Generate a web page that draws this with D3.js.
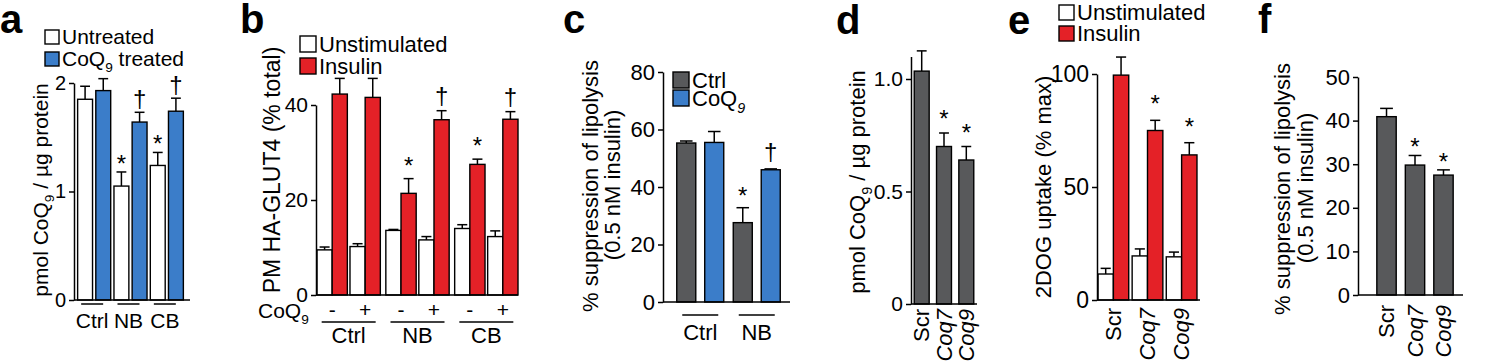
<!DOCTYPE html>
<html lang="en">
<head>
<meta charset="UTF-8">
<title>CoQ9 panels a-f</title>
<style>
  body { margin: 0; background: #fff; }
  svg { display: block; font-family: "Liberation Sans", Arial, Helvetica, sans-serif; }
  .axis path, .axis line { stroke: #000; stroke-width: 1.5; }
  .axis text { fill: #000; }
</style>
</head>
<body>
<div id="fig"></div>
<script src="https://d3js.org/d3.v7.min.js"></script>
<script>
// ---------- data ----------
// a: CoQ9 content
const aGroups = ["Ctrl", "NB", "CB"];
const aUntreated = [1.85, 1.05, 1.24];
const aUntreatedErr = [0.12, 0.13, 0.12];
const aTreated = [1.93, 1.64, 1.74];
const aTreatedErr = [0.11, 0.09, 0.12];
const aUntreatedMarks = ["", "*", "*"];
const aTreatedMarks = ["", "†", "†"];
const aTicks = [0, 1, 2];

// b: PM HA-GLUT4, order Ctrl-, Ctrl+, NB-, NB+, CB-, CB+
const bGroups = ["Ctrl", "NB", "CB"];
const bCoQ = ["-", "+"];
const bUnstim = [9.5, 10.2, 13.6, 11.6, 14.0, 12.3];
const bUnstimErr = [0.6, 0.6, 0.2, 0.7, 0.8, 1.2];
const bInsulin = [42.3, 41.6, 21.4, 36.9, 27.5, 37.0];
const bInsulinErr = [3.3, 4.0, 3.1, 1.9, 1.1, 1.6];
const bInsulinMarks = ["", "", "*", "†", "*", "†"];
const bTicks = [0, 20, 40];

// c: suppression of lipolysis, NB
const cGroups = ["Ctrl", "NB"];
const cCtrl = [55.3, 27.6];
const cCtrlErr = [0.7, 5.2];
const cCoQ = [55.5, 46.0];
const cCoQErr = [3.8, 0.3];
const cCtrlMarks = ["", "*"];
const cCoQMarks = ["", "†"];
const cTicks = [0, 20, 40, 60, 80];

// d, e, f: knockdowns
const kdCats = ["Scr", "Coq7", "Coq9"];
const kdItalic = [false, true, true];
const dVals = [1.035, 0.70, 0.64];
const dErr = [0.09, 0.06, 0.06];
const dMarks = ["", "*", "*"];
const dTicks = [0, 0.5, 1.0];

const eUnstim = [11.5, 19.5, 19.1];
const eUnstimErr = [2.5, 3.1, 2.1];
const eInsulin = [99.5, 75.0, 64.2];
const eInsulinErr = [8.0, 4.5, 5.4];
const eInsulinMarks = ["", "*", "*"];
const eTicks = [0, 50, 100];

const fVals = [40.9, 29.8, 27.5];
const fErr = [1.9, 2.2, 1.2];
const fMarks = ["", "*", "*"];
const fTicks = [0, 10, 20, 30, 40, 50];

const WHITE = "#ffffff", BLUE = "#3b7dc9", RED = "#e42127", GRAY = "#58595b";
const FONT = '"Liberation Sans", Arial, Helvetica, sans-serif';

const svg = d3.select("#fig").append("svg")
    .attr("width", 1500)
    .attr("height", 363);

// ---------- helpers ----------
// parts: [{t, sub, it}]
function rich(text, parts, fs) {
    let shifted = false;
    parts.forEach(p => {
        const ts = text.append("tspan").text(p.t);
        if (p.sub) {
            ts.attr("font-size", fs * 0.65).attr("dy", fs * 0.3);
            shifted = true;
        } else if (shifted) {
            ts.attr("dy", -fs * 0.3);
            shifted = false;
        }
        if (p.it) ts.attr("font-style", "italic");
    });
    return text;
}

function yAxis(x, y, ticks, fs, fmt) {
    const ax = d3.axisLeft(y).tickValues(ticks).tickSize(5).tickPadding(3).tickSizeOuter(0)
        .tickFormat(fmt || (d => String(d)));
    const g = svg.append("g")
        .attr("class", "axis")
        .attr("transform", `translate(${x},0)`)
        .call(ax);
    g.attr("font-family", FONT).attr("font-size", fs);
    return g;
}

function baseLine(x1, x2, y) {
    svg.append("line")
        .attr("x1", x1).attr("x2", x2)
        .attr("y1", y(0)).attr("y2", y(0))
        .attr("stroke", "#000").attr("stroke-width", 1.5);
}

function drawBars(rows, y, fs, starGap, dagGap) {
    const g = svg.append("g");
    g.selectAll("line.stem").data(rows).join("line")
        .attr("class", "stem")
        .attr("x1", d => d.x + d.w / 2).attr("x2", d => d.x + d.w / 2)
        .attr("y1", d => y(d.v)).attr("y2", d => y(d.v + d.e))
        .attr("stroke", "#000").attr("stroke-width", 1.5);
    g.selectAll("line.cap").data(rows).join("line")
        .attr("class", "cap")
        .attr("x1", d => d.x + d.w / 2 - d.w * 0.33).attr("x2", d => d.x + d.w / 2 + d.w * 0.33)
        .attr("y1", d => y(d.v + d.e)).attr("y2", d => y(d.v + d.e))
        .attr("stroke", "#000").attr("stroke-width", 1.5);
    g.selectAll("rect").data(rows).join("rect")
        .attr("x", d => d.x).attr("y", d => y(d.v))
        .attr("width", d => d.w).attr("height", d => y(0) - y(d.v))
        .attr("fill", d => d.fill)
        .attr("stroke", "#000").attr("stroke-width", 1.4);
    g.selectAll("text").data(rows.filter(d => d.mark)).join("text")
        .attr("x", d => d.x + d.w / 2)
        .attr("y", d => y(d.v + d.e) - (d.mark === "*" ? starGap : dagGap))
        .attr("text-anchor", "middle")
        .attr("font-size", fs)
        .text(d => d.mark);
}

function legend(x, tops, items, box, fs) {
    items.forEach((it, i) => {
        svg.append("rect")
            .attr("x", x).attr("y", tops[i])
            .attr("width", box).attr("height", box)
            .attr("fill", it.fill).attr("stroke", "#000").attr("stroke-width", 1.4);
        rich(svg.append("text")
            .attr("x", x + box + 3)
            .attr("y", tops[i] + box)
            .attr("font-size", fs), it.parts, fs);
    });
}

function yLabel(xBase, yc, parts, fs) {
    rich(svg.append("text")
        .attr("transform", `translate(${xBase},${yc}) rotate(-90)`)
        .attr("text-anchor", "middle")
        .attr("font-size", fs), parts, fs);
}

function groupLines(centers, half, yLine, yText, labels, fs) {
    const g = svg.append("g");
    g.selectAll("line").data(centers).join("line")
        .attr("x1", d => d - half).attr("x2", d => d + half)
        .attr("y1", yLine).attr("y2", yLine)
        .attr("stroke", "#000").attr("stroke-width", 1.5);
    g.selectAll("text").data(labels).join("text")
        .attr("x", (d, i) => centers[i])
        .attr("y", yText)
        .attr("text-anchor", "middle")
        .attr("font-size", fs)
        .text(d => d);
}

function rotLabels(x, yTop, fs) {
    svg.append("g").selectAll("text").data(kdCats).join("text")
        .attr("transform", d => `translate(${x(d) + x.bandwidth() / 2},${yTop}) rotate(-90)`)
        .attr("text-anchor", "end")
        .attr("dy", "0.35em")
        .attr("font-size", fs)
        .attr("font-style", (d, i) => kdItalic[i] ? "italic" : "normal")
        .text(d => d);
}

function panelLetter(x, y, t) {
    svg.append("text").attr("x", x).attr("y", y)
        .attr("font-size", 40).attr("font-weight", "bold").text(t);
}

// ---------- panel a ----------
panelLetter(0, 33, "a");
const ya = d3.scaleLinear().domain([0, 2]).range([300, 83]);
const xa = d3.scaleBand().domain(aGroups).range([76, 185]);
const xaIn = d3.scaleBand().domain(["u", "t"]).range([0, xa.bandwidth()]).paddingInner(0.18).paddingOuter(0.09);
const aRows = aGroups.flatMap((g, i) => [
    {x: xa(g) + xaIn("u"), w: xaIn.bandwidth(), v: aUntreated[i], e: aUntreatedErr[i], fill: WHITE, mark: aUntreatedMarks[i]},
    {x: xa(g) + xaIn("t"), w: xaIn.bandwidth(), v: aTreated[i], e: aTreatedErr[i], fill: BLUE, mark: aTreatedMarks[i]}
]);
drawBars(aRows, ya, 24, 0, 5);
yAxis(74, ya, aTicks, 20);
baseLine(74, 190, ya);
groupLines(aGroups.map(g => xa(g) + xa.bandwidth() / 2 - 2), 11, 304, 328, aGroups, 21);
legend(45, [30, 52], [
    {fill: WHITE, parts: [{t: "Untreated"}]},
    {fill: BLUE, parts: [{t: "CoQ"}, {t: "9", sub: true}, {t: " treated"}]}
], 14, 21);
yLabel(48, 190, [{t: "pmol CoQ"}, {t: "9", sub: true}, {t: " / µg protein"}], 21);

// ---------- panel b ----------
panelLetter(240, 33, "b");
const yb = d3.scaleLinear().domain([0, 40]).range([295, 105]);
const xb = d3.scaleBand().domain(bGroups).range([317, 518]).paddingInner(0.08);
const xbMid = d3.scaleBand().domain(bCoQ).range([0, xb.bandwidth()]).paddingInner(0.08);
const bRows = [];
const bPairCenters = [];
bGroups.forEach((g, gi) => {
    bCoQ.forEach((c, ci) => {
        const i = gi * 2 + ci;
        const x0 = xb(g) + xbMid(c);
        const w = xbMid.bandwidth() / 2;
        bPairCenters.push(x0 + xbMid.bandwidth() / 2);
        bRows.push({x: x0, w: w, v: bUnstim[i], e: bUnstimErr[i], fill: WHITE, mark: ""});
        bRows.push({x: x0 + w, w: w, v: bInsulin[i], e: bInsulinErr[i], fill: RED, mark: bInsulinMarks[i]});
    });
});
drawBars(bRows, yb, 24, 5, 7);
yAxis(316, yb, bTicks, 21);
baseLine(316, 518, yb);
svg.append("g").selectAll("text").data(bGroups.flatMap(() => bCoQ)).join("text")
    .attr("x", (d, i) => bPairCenters[i])
    .attr("y", 317)
    .attr("text-anchor", "middle")
    .attr("font-size", 21)
    .text(d => d);
rich(svg.append("text").attr("x", 258).attr("y", 318).attr("font-size", 21),
    [{t: "CoQ"}, {t: "9", sub: true}], 21);
groupLines(bGroups.map(g => xb(g) + xb.bandwidth() / 2), 27, 322, 343, bGroups, 22);
legend(300, [36, 58], [
    {fill: WHITE, parts: [{t: "Unstimulated"}]},
    {fill: RED, parts: [{t: "Insulin"}]}
], 16, 22);
yLabel(280, 170, [{t: "PM HA-GLUT4 (% total)"}], 23);

// ---------- panel c ----------
panelLetter(563, 33, "c");
const yc = d3.scaleLinear().domain([0, 80]).range([302, 72]);
const xc = d3.scaleBand().domain(cGroups).range([672, 785]);
const xcIn = d3.scaleBand().domain(["ctrl", "coq"]).range([0, xc.bandwidth()]).paddingInner(0.32).paddingOuter(0.17);
const cRows = cGroups.flatMap((g, i) => [
    {x: xc(g) + xcIn("ctrl"), w: xcIn.bandwidth(), v: cCtrl[i], e: cCtrlErr[i], fill: GRAY, mark: cCtrlMarks[i]},
    {x: xc(g) + xcIn("coq"), w: xcIn.bandwidth(), v: cCoQ[i], e: cCoQErr[i], fill: BLUE, mark: cCoQMarks[i]}
]);
drawBars(cRows, yc, 24, 4, 9);
yAxis(663, yc, cTicks, 22);
baseLine(663, 790, yc);
groupLines(cGroups.map(g => xc(g) + xc.bandwidth() / 2), 18, 315, 340, cGroups, 22);
legend(673, [72, 90], [
    {fill: GRAY, parts: [{t: "Ctrl"}]},
    {fill: BLUE, parts: [{t: "CoQ"}, {t: "9", sub: true, it: true}]}
], 16, 22);
yLabel(598, 186, [{t: "% suppression of lipolysis"}], 22);
yLabel(620, 185, [{t: "(0.5 nM insulin)"}], 22);

// ---------- panel d ----------
panelLetter(836, 34, "d");
const yd = d3.scaleLinear().domain([0, 1.1]).range([304, 56.5]);
const xd = d3.scaleBand().domain(kdCats).range([912, 976]).paddingInner(0.33).paddingOuter(0.1);
const dRows = kdCats.map((c, i) => ({x: xd(c), w: xd.bandwidth(), v: dVals[i], e: dErr[i], fill: GRAY, mark: dMarks[i]}));
drawBars(dRows, yd, 24, 6, 6);
yAxis(911, yd, dTicks, 21, d => d === 0 ? "0" : d.toFixed(1));
baseLine(911, 977, yd);
rotLabels(xd, 309, 22);
yLabel(865, 182, [{t: "pmol CoQ"}, {t: "9", sub: true}, {t: " / µg protein"}], 22);

// ---------- panel e ----------
panelLetter(1008, 34, "e");
const ye = d3.scaleLinear().domain([0, 100]).range([300, 74]);
const xe = d3.scaleBand().domain(kdCats).range([1097, 1198]).paddingInner(0.1).paddingOuter(0.03);
const xeIn = d3.scaleBand().domain(["u", "i"]).range([0, xe.bandwidth()]);
const eRows = kdCats.flatMap((c, i) => [
    {x: xe(c) + xeIn("u"), w: xeIn.bandwidth(), v: eUnstim[i], e: eUnstimErr[i], fill: WHITE, mark: ""},
    {x: xe(c) + xeIn("i"), w: xeIn.bandwidth(), v: eInsulin[i], e: eInsulinErr[i], fill: RED, mark: eInsulinMarks[i]}
]);
drawBars(eRows, ye, 24, 8, 8);
yAxis(1097, ye, eTicks, 23);
baseLine(1097, 1200, ye);
rotLabels(xe, 308, 22);
legend(1059, [5, 26], [
    {fill: WHITE, parts: [{t: "Unstimulated"}]},
    {fill: RED, parts: [{t: "Insulin"}]}
], 15, 22);
yLabel(1051, 187, [{t: "2DOG uptake (% max)"}], 22);

// ---------- panel f ----------
panelLetter(1258, 33, "f");
const yf = d3.scaleLinear().domain([0, 50]).range([295, 77]);
const xf = d3.scaleBand().domain(kdCats).range([1370, 1460]).paddingInner(0.32).paddingOuter(0.24);
const fRows = kdCats.map((c, i) => ({x: xf(c), w: xf.bandwidth(), v: fVals[i], e: fErr[i], fill: GRAY, mark: fMarks[i]}));
drawBars(fRows, yf, 24, 0, 0);
yAxis(1358, yf, fTicks, 22);
baseLine(1358, 1463, yf);
rotLabels(xf, 305, 22);
yLabel(1290, 189, [{t: "% suppression of lipolysis"}], 22);
yLabel(1313, 188, [{t: "(0.5 nM insulin)"}], 22);
</script>
</body>
</html>
